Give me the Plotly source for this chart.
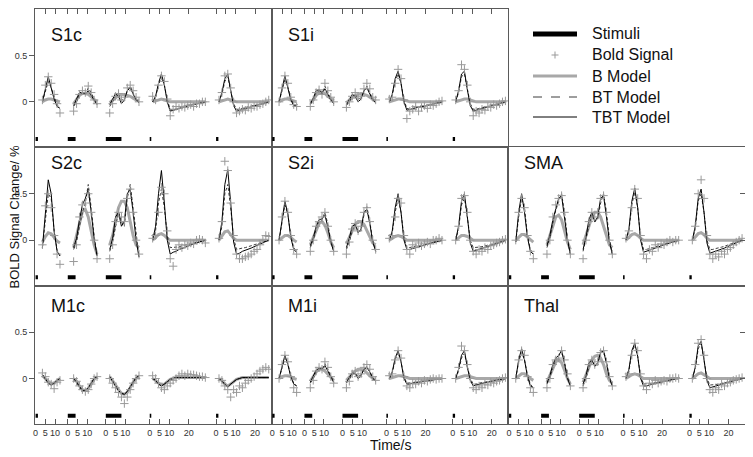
import plotly.graph_objects as go
from plotly.subplots import make_subplots

# ---------------- time grids of the five trial types (s) ----------------
T1 = [3.5, 5, 6.5, 8, 9.5, 11, 12.5]
T2 = [3, 4.5, 6, 7.5, 9, 10.5, 12, 13.5, 15]
T3 = [2, 3.5, 5, 6.5, 8, 9.5, 11, 12.5, 14, 15.5, 17]
T4 = [1.5, 3, 4.5, 6, 7.5, 9, 10.5, 12, 13.5, 15, 16.5, 18, 19.5, 21, 22.5, 24, 25.5, 27, 28.5]
T5 = [1.5, 3, 4.5, 6, 7.5, 9, 10.5, 12, 13.5, 15, 16.5, 18, 19.5, 21, 22.5, 24, 25.5, 27]
T_SEGS = [T1, T2, T3, T4, T5]

SEG_TICKS = [[0, 5, 10], [0, 5, 10], [0, 5, 10], [0, 5, 10, 20], [0, 5, 10, 20]]
STIM_DUR = [1.2, 4, 8, 0.8, 1.2]
STIM_LEVEL = -0.4
Y_TICKS = [0, 0.5]
LEGEND_NAMES = ["Stimuli", "Bold Signal", "B Model", "BT Model", "TBT Model"]

# ---------------- S1c ----------------
S1C_SIG = [[0.02, 0.18, 0.27, 0.2, 0.08, -0.02, -0.12],
           [-0.1, -0.02, 0.08, 0.12, 0.1, 0.17, 0.1, 0.02, -0.02],
           [-0.12, -0.02, 0.06, 0.09, 0.02, 0.05, 0.15, 0.18, 0.12, 0.05, 0.0],
           [0.06, 0.02, 0.18, 0.28, 0.22, 0.03, -0.15, -0.08, -0.05, -0.07, -0.05, -0.06, -0.04, -0.03, -0.05, -0.02, -0.02, 0.0, 0.0],
           [0.02, 0.1, 0.28, 0.3, 0.15, 0.0, -0.12, -0.1, -0.08, -0.09, -0.06, -0.07, -0.05, -0.05, -0.03, -0.02, 0.0, 0.02]]
S1C_B = [[0.0, 0.02, 0.03, 0.03, 0.02, 0.01, 0.0],
         [-0.02, 0.02, 0.07, 0.09, 0.09, 0.08, 0.05, 0.02, 0.0],
         [-0.01, 0.02, 0.05, 0.07, 0.08, 0.08, 0.07, 0.06, 0.04, 0.02, 0.01],
         [0.0, 0.01, 0.02, 0.03, 0.02, 0.01, 0.0, 0.0, 0.0, 0.0, 0.0, 0.0, 0.0, 0.0, 0.0, 0.0, 0.0, 0.0, 0.0],
         [0.0, 0.01, 0.02, 0.03, 0.02, 0.01, 0.0, 0.0, 0.0, 0.0, 0.0, 0.0, 0.0, 0.0, 0.0, 0.0, 0.0, 0.0]]
S1C_BT = [[0.0, 0.12, 0.22, 0.15, 0.05, -0.03, -0.06],
          [-0.05, 0.0, 0.08, 0.1, 0.08, 0.15, 0.1, 0.03, -0.02],
          [-0.05, 0.0, 0.06, 0.08, 0.02, 0.03, 0.12, 0.17, 0.1, 0.03, 0.0],
          [0.0, 0.05, 0.18, 0.27, 0.18, 0.02, -0.08, -0.09, -0.08, -0.07, -0.06, -0.05, -0.04, -0.035, -0.03, -0.02, -0.015, -0.01, 0.0],
          [0.0, 0.08, 0.22, 0.27, 0.12, -0.02, -0.08, -0.08, -0.07, -0.06, -0.05, -0.045, -0.04, -0.03, -0.025, -0.02, -0.01, 0.0]]
S1C_TBT = [[0.0, 0.15, 0.27, 0.15, 0.03, -0.05, -0.07],
           [-0.04, 0.03, 0.1, 0.1, 0.09, 0.12, 0.07, 0.01, -0.03],
           [-0.03, 0.03, 0.09, 0.06, -0.02, 0.02, 0.12, 0.15, 0.08, 0.02, -0.01],
           [0.0, 0.06, 0.2, 0.3, 0.18, 0.0, -0.1, -0.09, -0.08, -0.07, -0.06, -0.05, -0.04, -0.035, -0.03, -0.02, -0.015, -0.01, 0.0],
           [0.0, 0.1, 0.25, 0.3, 0.12, -0.04, -0.1, -0.09, -0.08, -0.07, -0.06, -0.05, -0.04, -0.035, -0.03, -0.02, -0.01, 0.0]]

# ---------------- S1i ----------------
S1I_SIG = [[0.0, 0.15, 0.28, 0.2, 0.05, -0.03, -0.05],
           [-0.05, 0.02, 0.1, 0.13, 0.08, 0.2, 0.12, 0.05, 0.0],
           [-0.06, 0.0, 0.06, 0.1, 0.04, 0.06, 0.14, 0.2, 0.14, 0.05, 0.02],
           [0.03, 0.05, 0.2, 0.35, 0.25, 0.02, -0.18, -0.1, -0.08, -0.05, -0.1, -0.06, -0.04, -0.07, -0.03, -0.04, -0.02, 0.0, 0.01],
           [0.02, 0.12, 0.4, 0.35, 0.18, 0.0, -0.15, -0.1, -0.12, -0.08, -0.09, -0.05, -0.06, -0.03, -0.04, -0.02, 0.0, 0.01]]
S1I_B = [[0.0, 0.02, 0.03, 0.03, 0.02, 0.01, 0.0],
         [-0.01, 0.02, 0.07, 0.1, 0.1, 0.09, 0.06, 0.03, 0.01],
         [-0.01, 0.02, 0.05, 0.07, 0.08, 0.09, 0.08, 0.07, 0.05, 0.03, 0.01],
         [0.0, 0.01, 0.02, 0.03, 0.03, 0.02, 0.01, 0.0, 0.0, 0.0, 0.0, 0.0, 0.0, 0.0, 0.0, 0.0, 0.0, 0.0, 0.0],
         [0.0, 0.01, 0.02, 0.03, 0.03, 0.02, 0.01, 0.0, 0.0, 0.0, 0.0, 0.0, 0.0, 0.0, 0.0, 0.0, 0.0, 0.0]]
S1I_BT = [[0.0, 0.13, 0.24, 0.16, 0.04, -0.03, -0.05],
          [-0.03, 0.02, 0.1, 0.12, 0.08, 0.17, 0.1, 0.03, -0.02],
          [-0.04, 0.0, 0.06, 0.08, 0.03, 0.04, 0.12, 0.17, 0.1, 0.03, 0.0],
          [0.0, 0.07, 0.22, 0.3, 0.2, 0.02, -0.07, -0.08, -0.07, -0.065, -0.06, -0.05, -0.045, -0.04, -0.03, -0.025, -0.02, -0.01, 0.0],
          [0.0, 0.1, 0.27, 0.3, 0.14, -0.02, -0.08, -0.08, -0.07, -0.065, -0.055, -0.05, -0.04, -0.035, -0.03, -0.02, -0.01, 0.0]]
S1I_TBT = [[0.0, 0.15, 0.28, 0.15, 0.02, -0.04, -0.05],
           [-0.02, 0.04, 0.12, 0.13, 0.1, 0.14, 0.08, 0.02, -0.02],
           [-0.03, 0.02, 0.08, 0.06, 0.0, 0.03, 0.12, 0.15, 0.08, 0.02, -0.01],
           [0.0, 0.08, 0.25, 0.33, 0.2, 0.0, -0.09, -0.085, -0.075, -0.065, -0.06, -0.05, -0.045, -0.04, -0.03, -0.025, -0.02, -0.01, 0.0],
           [0.0, 0.12, 0.3, 0.33, 0.13, -0.04, -0.1, -0.09, -0.08, -0.07, -0.06, -0.05, -0.045, -0.04, -0.03, -0.02, -0.01, 0.0]]

# ---------------- S2c ----------------
S2C_SIG = [[-0.05, 0.37, 0.5, 0.35, 0.05, -0.15, -0.26],
           [-0.23, -0.05, 0.25, 0.38, 0.4, 0.5, 0.3, 0.0, -0.2],
           [-0.2, -0.05, 0.2, 0.3, 0.25, 0.2, 0.45, 0.55, 0.3, 0.0, -0.15],
           [0.02, 0.05, 0.3, 0.57, 0.5, 0.1, -0.2, -0.28, -0.1, -0.05, -0.08, -0.05, -0.06, -0.03, -0.04, 0.0, 0.01, 0.0, -0.03],
           [0.02, 0.2, 0.85, 0.75, 0.4, 0.05, -0.15, -0.2, -0.2, -0.18, -0.17, -0.15, -0.12, -0.1, -0.05, 0.0, 0.05, 0.04]]
S2C_B = [[-0.02, 0.04, 0.08, 0.07, 0.03, -0.01, -0.03],
         [-0.08, 0.05, 0.2, 0.31, 0.33, 0.25, 0.1, -0.05, -0.15],
         [-0.05, 0.05, 0.2, 0.35, 0.42, 0.42, 0.35, 0.2, 0.05, -0.05, -0.08],
         [0.0, 0.03, 0.06, 0.07, 0.05, 0.02, 0.0, 0.0, 0.0, 0.0, 0.0, 0.0, 0.0, 0.0, 0.0, 0.0, 0.0, 0.0, 0.0],
         [0.0, 0.04, 0.09, 0.1, 0.06, 0.02, 0.0, 0.0, 0.0, 0.0, 0.0, 0.0, 0.0, 0.0, 0.0, 0.0, 0.0, 0.0]]
S2C_BT = [[-0.08, 0.25, 0.5, 0.45, 0.1, -0.1, -0.17],
          [-0.1, -0.02, 0.15, 0.3, 0.4, 0.6, 0.35, 0.05, -0.17],
          [-0.12, -0.02, 0.15, 0.3, 0.2, 0.15, 0.45, 0.6, 0.35, 0.05, -0.18],
          [0.0, 0.1, 0.4, 0.55, 0.35, 0.05, -0.08, -0.08, -0.075, -0.07, -0.06, -0.05, -0.045, -0.04, -0.03, -0.02, -0.015, -0.01, 0.0],
          [0.0, 0.15, 0.5, 0.6, 0.35, 0.02, -0.1, -0.09, -0.085, -0.08, -0.07, -0.06, -0.05, -0.04, -0.03, -0.02, -0.01, 0.0]]
S2C_TBT = [[-0.08, 0.3, 0.65, 0.5, 0.1, -0.12, -0.17],
           [-0.08, 0.02, 0.22, 0.38, 0.45, 0.55, 0.3, 0.02, -0.17],
           [-0.1, 0.02, 0.25, 0.3, 0.15, 0.2, 0.5, 0.55, 0.3, 0.0, -0.18],
           [0.0, 0.15, 0.5, 0.75, 0.4, 0.0, -0.15, -0.13, -0.12, -0.1, -0.09, -0.08, -0.065, -0.05, -0.04, -0.03, -0.02, -0.01, 0.0],
           [0.0, 0.2, 0.6, 0.76, 0.4, -0.02, -0.15, -0.14, -0.12, -0.11, -0.1, -0.085, -0.07, -0.055, -0.04, -0.03, -0.015, 0.0]]

# ---------------- S2i ----------------
S2I_SIG = [[0.0, 0.25, 0.42, 0.3, 0.05, -0.1, -0.15],
           [-0.12, 0.0, 0.15, 0.2, 0.25, 0.3, 0.15, 0.0, -0.12],
           [-0.15, -0.02, 0.12, 0.18, 0.1, 0.15, 0.3, 0.35, 0.2, 0.0, -0.1],
           [0.02, 0.05, 0.25, 0.45, 0.4, 0.05, -0.1, -0.15, -0.05, -0.08, -0.03, -0.06, -0.04, -0.02, -0.04, 0.0, 0.0, 0.02, 0.0],
           [0.0, 0.15, 0.45, 0.48, 0.3, 0.0, -0.12, -0.15, -0.1, -0.12, -0.08, -0.1, -0.06, -0.05, -0.03, -0.02, 0.0, 0.01]]
S2I_B = [[0.0, 0.03, 0.05, 0.05, 0.03, 0.0, -0.02],
         [-0.05, 0.03, 0.12, 0.18, 0.2, 0.16, 0.08, -0.02, -0.08],
         [-0.04, 0.03, 0.1, 0.17, 0.2, 0.2, 0.17, 0.1, 0.03, -0.03, -0.05],
         [0.0, 0.02, 0.04, 0.05, 0.04, 0.02, 0.0, 0.0, 0.0, 0.0, 0.0, 0.0, 0.0, 0.0, 0.0, 0.0, 0.0, 0.0, 0.0],
         [0.0, 0.03, 0.05, 0.05, 0.04, 0.02, 0.0, 0.0, 0.0, 0.0, 0.0, 0.0, 0.0, 0.0, 0.0, 0.0, 0.0, 0.0]]
S2I_BT = [[0.0, 0.2, 0.38, 0.28, 0.05, -0.08, -0.12],
          [-0.08, 0.0, 0.12, 0.2, 0.22, 0.3, 0.17, 0.0, -0.12],
          [-0.1, -0.02, 0.1, 0.17, 0.1, 0.1, 0.28, 0.36, 0.2, 0.0, -0.12],
          [0.0, 0.08, 0.3, 0.45, 0.3, 0.03, -0.08, -0.08, -0.07, -0.065, -0.06, -0.05, -0.045, -0.04, -0.03, -0.02, -0.015, -0.01, 0.0],
          [0.0, 0.12, 0.38, 0.45, 0.25, 0.0, -0.08, -0.08, -0.075, -0.07, -0.06, -0.05, -0.045, -0.04, -0.03, -0.02, -0.01, 0.0]]
S2I_TBT = [[0.0, 0.22, 0.42, 0.28, 0.03, -0.1, -0.13],
           [-0.06, 0.02, 0.15, 0.22, 0.23, 0.27, 0.14, -0.02, -0.12],
           [-0.08, 0.02, 0.15, 0.17, 0.08, 0.12, 0.3, 0.33, 0.18, -0.02, -0.12],
           [0.0, 0.1, 0.35, 0.5, 0.3, 0.0, -0.1, -0.1, -0.09, -0.08, -0.07, -0.06, -0.05, -0.04, -0.03, -0.025, -0.02, -0.01, 0.0],
           [0.0, 0.15, 0.42, 0.5, 0.25, -0.03, -0.12, -0.11, -0.1, -0.09, -0.08, -0.07, -0.06, -0.05, -0.04, -0.03, -0.015, 0.0]]

# ---------------- SMA ----------------
SMA_SIG = [[0.0, 0.3, 0.45, 0.35, 0.05, -0.12, -0.2],
           [-0.15, 0.0, 0.25, 0.38, 0.45, 0.48, 0.3, 0.0, -0.15],
           [-0.2, 0.0, 0.2, 0.3, 0.25, 0.3, 0.45, 0.48, 0.3, 0.0, -0.15],
           [0.02, 0.1, 0.35, 0.55, 0.45, 0.05, -0.15, -0.2, -0.1, -0.12, -0.05, -0.08, -0.04, -0.05, -0.02, 0.0, -0.02, 0.0, 0.0],
           [0.0, 0.15, 0.5, 0.65, 0.45, 0.05, -0.15, -0.2, -0.15, -0.18, -0.12, -0.15, -0.1, -0.08, -0.05, -0.02, 0.0, 0.02]]
SMA_B = [[0.0, 0.03, 0.06, 0.06, 0.03, 0.0, -0.02],
         [-0.05, 0.05, 0.17, 0.25, 0.27, 0.22, 0.1, -0.02, -0.1],
         [-0.05, 0.05, 0.15, 0.25, 0.3, 0.3, 0.25, 0.15, 0.03, -0.05, -0.08],
         [0.0, 0.03, 0.06, 0.07, 0.05, 0.02, 0.0, 0.0, 0.0, 0.0, 0.0, 0.0, 0.0, 0.0, 0.0, 0.0, 0.0, 0.0, 0.0],
         [0.0, 0.04, 0.07, 0.08, 0.06, 0.02, 0.0, 0.0, 0.0, 0.0, 0.0, 0.0, 0.0, 0.0, 0.0, 0.0, 0.0, 0.0]]
SMA_BT = [[-0.02, 0.25, 0.45, 0.35, 0.05, -0.1, -0.15],
          [-0.08, 0.02, 0.18, 0.32, 0.42, 0.5, 0.3, 0.02, -0.15],
          [-0.12, 0.0, 0.15, 0.28, 0.2, 0.22, 0.4, 0.5, 0.3, 0.02, -0.15],
          [0.0, 0.1, 0.38, 0.52, 0.35, 0.03, -0.1, -0.1, -0.09, -0.08, -0.07, -0.06, -0.05, -0.04, -0.03, -0.025, -0.02, -0.01, 0.0],
          [0.0, 0.12, 0.42, 0.5, 0.3, 0.0, -0.1, -0.1, -0.09, -0.085, -0.075, -0.065, -0.055, -0.045, -0.035, -0.025, -0.01, 0.0]]
SMA_TBT = [[-0.02, 0.3, 0.5, 0.3, 0.03, -0.12, -0.15],
           [-0.06, 0.05, 0.22, 0.35, 0.45, 0.48, 0.25, 0.0, -0.15],
           [-0.1, 0.03, 0.22, 0.3, 0.2, 0.25, 0.45, 0.48, 0.25, -0.02, -0.15],
           [0.0, 0.12, 0.42, 0.56, 0.35, 0.0, -0.13, -0.12, -0.11, -0.1, -0.09, -0.075, -0.06, -0.05, -0.04, -0.03, -0.02, -0.01, 0.0],
           [0.0, 0.15, 0.45, 0.55, 0.3, -0.03, -0.14, -0.13, -0.12, -0.11, -0.1, -0.085, -0.07, -0.055, -0.04, -0.03, -0.015, 0.0]]

# ---------------- M1c ----------------
M1C_SIG = [[0.06, 0.02, -0.04, -0.06, -0.11, -0.04, -0.02],
           [0.0, -0.03, -0.08, -0.12, -0.14, -0.12, -0.06, 0.0, 0.02],
           [0.0, -0.05, -0.1, -0.15, -0.2, -0.27, -0.2, -0.12, -0.05, 0.0, 0.03],
           [0.03, 0.0, -0.05, -0.1, -0.12, -0.08, -0.05, -0.02, 0.0, 0.03, 0.05, 0.03, 0.05, 0.04, 0.04, 0.03, 0.02, 0.02, 0.01],
           [0.0, -0.02, -0.08, -0.12, -0.2, -0.12, -0.15, -0.08, -0.1, -0.05, -0.02, 0.0, 0.02, 0.05, 0.08, 0.1, 0.12, 0.1]]
M1C_B = [[0.03, 0.0, -0.04, -0.06, -0.05, -0.02, 0.0],
         [0.0, -0.03, -0.08, -0.12, -0.13, -0.11, -0.06, -0.01, 0.02],
         [0.02, -0.02, -0.07, -0.12, -0.16, -0.17, -0.15, -0.1, -0.04, 0.0, 0.02],
         [0.0, -0.02, -0.05, -0.07, -0.06, -0.03, -0.01, 0.0, 0.01, 0.01, 0.01, 0.01, 0.01, 0.01, 0.01, 0.01, 0.01, 0.01, 0.01],
         [0.0, -0.02, -0.06, -0.08, -0.06, -0.03, -0.01, 0.0, 0.01, 0.01, 0.01, 0.01, 0.01, 0.01, 0.01, 0.01, 0.01, 0.01]]
M1C_BT = [[0.04, 0.0, -0.05, -0.07, -0.05, -0.02, 0.0],
          [0.0, -0.03, -0.09, -0.13, -0.13, -0.1, -0.05, 0.0, 0.02],
          [0.02, -0.03, -0.08, -0.13, -0.16, -0.17, -0.14, -0.09, -0.03, 0.01, 0.03],
          [0.0, -0.02, -0.06, -0.08, -0.06, -0.03, -0.01, 0.0, 0.01, 0.01, 0.01, 0.01, 0.01, 0.01, 0.01, 0.01, 0.01, 0.01, 0.01],
          [0.0, -0.03, -0.07, -0.09, -0.06, -0.03, -0.01, 0.0, 0.01, 0.01, 0.01, 0.01, 0.01, 0.01, 0.01, 0.01, 0.01, 0.01]]
M1C_TBT = [[0.04, 0.0, -0.05, -0.07, -0.05, -0.02, 0.0],
           [0.0, -0.04, -0.09, -0.13, -0.13, -0.1, -0.05, 0.0, 0.02],
           [0.02, -0.03, -0.09, -0.13, -0.16, -0.17, -0.14, -0.09, -0.03, 0.01, 0.03],
           [0.0, -0.02, -0.06, -0.08, -0.06, -0.03, -0.01, 0.0, 0.01, 0.01, 0.01, 0.01, 0.01, 0.01, 0.01, 0.01, 0.01, 0.01, 0.01],
           [0.0, -0.03, -0.07, -0.09, -0.06, -0.03, -0.01, 0.0, 0.01, 0.01, 0.01, 0.01, 0.01, 0.01, 0.01, 0.01, 0.01, 0.01]]

# ---------------- M1i ----------------
M1I_SIG = [[0.0, 0.15, 0.25, 0.18, 0.02, -0.1, -0.15],
           [-0.1, -0.02, 0.08, 0.12, 0.1, 0.18, 0.12, 0.02, -0.05],
           [-0.1, -0.03, 0.05, 0.08, 0.02, 0.05, 0.12, 0.15, 0.1, 0.02, -0.02],
           [0.03, 0.05, 0.2, 0.3, 0.22, 0.02, -0.08, -0.1, -0.05, -0.06, -0.03, -0.05, -0.02, -0.03, -0.01, 0.0, -0.01, 0.0, 0.0],
           [0.0, 0.12, 0.35, 0.3, 0.15, 0.0, -0.1, -0.12, -0.08, -0.1, -0.06, -0.07, -0.04, -0.05, -0.03, -0.02, 0.0, 0.01]]
M1I_B = [[0.0, 0.02, 0.03, 0.03, 0.02, 0.0, -0.01],
         [-0.03, 0.02, 0.07, 0.1, 0.1, 0.08, 0.05, 0.01, -0.02],
         [-0.02, 0.02, 0.05, 0.08, 0.1, 0.1, 0.09, 0.06, 0.03, 0.0, -0.01],
         [0.0, 0.01, 0.02, 0.03, 0.03, 0.02, 0.01, 0.0, 0.0, 0.0, 0.0, 0.0, 0.0, 0.0, 0.0, 0.0, 0.0, 0.0, 0.0],
         [0.0, 0.01, 0.02, 0.03, 0.03, 0.02, 0.01, 0.0, 0.0, 0.0, 0.0, 0.0, 0.0, 0.0, 0.0, 0.0, 0.0, 0.0, 0.0]]
M1I_BT = [[0.0, 0.12, 0.22, 0.16, 0.03, -0.05, -0.08],
          [-0.05, 0.0, 0.07, 0.1, 0.1, 0.16, 0.1, 0.02, -0.04],
          [-0.05, -0.01, 0.05, 0.06, 0.02, 0.04, 0.1, 0.13, 0.08, 0.01, -0.03],
          [0.0, 0.06, 0.2, 0.28, 0.18, 0.02, -0.05, -0.05, -0.045, -0.04, -0.035, -0.03, -0.025, -0.02, -0.015, -0.01, -0.01, 0.0, 0.0],
          [0.0, 0.08, 0.22, 0.27, 0.13, 0.0, -0.06, -0.06, -0.05, -0.045, -0.04, -0.035, -0.03, -0.025, -0.02, -0.01, -0.005, 0.0]]
M1I_TBT = [[0.0, 0.14, 0.25, 0.15, 0.02, -0.06, -0.08],
           [-0.04, 0.02, 0.09, 0.11, 0.1, 0.14, 0.08, 0.01, -0.04],
           [-0.04, 0.01, 0.06, 0.05, 0.0, 0.03, 0.1, 0.12, 0.07, 0.0, -0.03],
           [0.0, 0.07, 0.22, 0.3, 0.18, 0.0, -0.06, -0.06, -0.05, -0.045, -0.04, -0.035, -0.03, -0.02, -0.015, -0.01, -0.01, 0.0, 0.0],
           [0.0, 0.1, 0.25, 0.3, 0.12, -0.02, -0.08, -0.07, -0.06, -0.05, -0.045, -0.04, -0.03, -0.025, -0.02, -0.01, -0.005, 0.0]]

# ---------------- Thal ----------------
THAL_SIG = [[0.0, 0.2, 0.3, 0.25, 0.02, -0.1, -0.15],
            [-0.1, 0.0, 0.15, 0.2, 0.22, 0.3, 0.2, 0.05, -0.08],
            [-0.1, 0.0, 0.15, 0.2, 0.15, 0.18, 0.28, 0.3, 0.18, 0.02, -0.08],
            [0.02, 0.05, 0.25, 0.38, 0.3, 0.05, -0.08, -0.12, -0.05, -0.06, -0.02, -0.05, -0.03, -0.02, -0.03, 0.0, 0.0, 0.01, 0.0],
            [0.0, 0.15, 0.38, 0.42, 0.25, 0.0, -0.12, -0.15, -0.1, -0.12, -0.06, -0.08, -0.05, -0.04, -0.02, -0.01, 0.0, 0.01]]
THAL_B = [[0.0, 0.03, 0.05, 0.05, 0.03, 0.0, -0.02],
          [-0.04, 0.04, 0.12, 0.18, 0.2, 0.17, 0.09, 0.0, -0.06],
          [-0.04, 0.04, 0.12, 0.2, 0.24, 0.25, 0.22, 0.15, 0.05, -0.02, -0.05],
          [0.0, 0.02, 0.04, 0.05, 0.04, 0.02, 0.0, 0.0, 0.0, 0.0, 0.0, 0.0, 0.0, 0.0, 0.0, 0.0, 0.0, 0.0, 0.0],
          [0.0, 0.03, 0.05, 0.06, 0.04, 0.02, 0.0, 0.0, 0.0, 0.0, 0.0, 0.0, 0.0, 0.0, 0.0, 0.0, 0.0, 0.0]]
THAL_BT = [[0.0, 0.18, 0.28, 0.2, 0.04, -0.06, -0.1],
           [-0.06, 0.01, 0.12, 0.2, 0.24, 0.3, 0.18, 0.02, -0.08],
           [-0.08, 0.0, 0.12, 0.2, 0.14, 0.15, 0.27, 0.3, 0.18, 0.02, -0.08],
           [0.0, 0.08, 0.28, 0.36, 0.24, 0.02, -0.06, -0.06, -0.055, -0.05, -0.045, -0.04, -0.03, -0.025, -0.02, -0.015, -0.01, 0.0, 0.0],
           [0.0, 0.1, 0.32, 0.38, 0.2, 0.0, -0.07, -0.07, -0.065, -0.06, -0.05, -0.045, -0.04, -0.03, -0.02, -0.015, -0.01, 0.0]]
THAL_TBT = [[0.0, 0.2, 0.32, 0.2, 0.02, -0.08, -0.1],
            [-0.05, 0.03, 0.15, 0.22, 0.25, 0.3, 0.16, 0.0, -0.08],
            [-0.06, 0.03, 0.17, 0.2, 0.13, 0.17, 0.28, 0.3, 0.16, 0.0, -0.08],
            [0.0, 0.1, 0.3, 0.38, 0.24, 0.0, -0.08, -0.08, -0.07, -0.06, -0.05, -0.045, -0.04, -0.03, -0.025, -0.02, -0.01, 0.0, 0.0],
            [0.0, 0.12, 0.35, 0.4, 0.2, -0.02, -0.1, -0.09, -0.08, -0.07, -0.06, -0.05, -0.045, -0.035, -0.025, -0.02, -0.01, 0.0]]

# ---------------- layout constants ----------------
SEG_OFFSET = [0, 16.5, 36, 58.5, 92.5]   # horizontal placement of each trial-type window
X_RANGE = [-0.3, 121]
Y_RANGE = [-0.49, 1.0]
FONT = "Arial, Liberation Sans, Helvetica, sans-serif"
PAGE = 8                      # the page body adds an 8px offset around the figure
W, H = 753 - PAGE, 457 - PAGE
ML, MR, MT, MB = 35 - PAGE, 8, 9 - PAGE, 33
PLOT_W = W - ML - MR
PLOT_H = H - MT - MB

PANELS = [
    ("S1c", 1, 1, S1C_SIG, S1C_B, S1C_BT, S1C_TBT),
    ("S1i", 1, 2, S1I_SIG, S1I_B, S1I_BT, S1I_TBT),
    ("S2c", 2, 1, S2C_SIG, S2C_B, S2C_BT, S2C_TBT),
    ("S2i", 2, 2, S2I_SIG, S2I_B, S2I_BT, S2I_TBT),
    ("SMA", 2, 3, SMA_SIG, SMA_B, SMA_BT, SMA_TBT),
    ("M1c", 3, 1, M1C_SIG, M1C_B, M1C_BT, M1C_TBT),
    ("M1i", 3, 2, M1I_SIG, M1I_B, M1I_BT, M1I_TBT),
    ("Thal", 3, 3, THAL_SIG, THAL_B, THAL_BT, THAL_TBT),
]


def seg_xy(series):
    xs, ys = [], []
    for k, (t, v) in enumerate(zip(T_SEGS, series)):
        xs += [SEG_OFFSET[k] + ti for ti in t] + [None]
        ys += list(v) + [None]
    return xs, ys


def stim_xy():
    xs, ys = [], []
    for k, d in enumerate(STIM_DUR):
        xs += [SEG_OFFSET[k], SEG_OFFSET[k] + d, None]
        ys += [STIM_LEVEL, STIM_LEVEL, None]
    return xs, ys


STYLE_B = dict(color="#a8a8a8", width=3)
STYLE_BT = dict(color="#3c3c3c", width=1, dash="3px,2px")
STYLE_TBT = dict(color="#000000", width=1)
STYLE_STIM = dict(color="#000000", width=4)
SIG_COLOR = "#999999"

fig = make_subplots(rows=3, cols=3, horizontal_spacing=0, vertical_spacing=0)

for name, r, c, sig, bm, btm, tbtm in PANELS:
    x, y = seg_xy(bm)
    fig.add_trace(go.Scatter(x=x, y=y, mode="lines", name=LEGEND_NAMES[2], line=STYLE_B), row=r, col=c)
    x, y = seg_xy(btm)
    fig.add_trace(go.Scatter(x=x, y=y, mode="lines", name=LEGEND_NAMES[3], line=STYLE_BT), row=r, col=c)
    x, y = seg_xy(tbtm)
    fig.add_trace(go.Scatter(x=x, y=y, mode="lines", name=LEGEND_NAMES[4], line=STYLE_TBT), row=r, col=c)
    x, y = seg_xy(sig)
    fig.add_trace(go.Scatter(x=x, y=y, mode="markers", name=LEGEND_NAMES[1],
                             marker=dict(symbol="cross-thin", size=6, line=dict(width=1, color=SIG_COLOR))),
                  row=r, col=c)
    x, y = stim_xy()
    fig.add_trace(go.Scatter(x=x, y=y, mode="lines", name=LEGEND_NAMES[0], line=STYLE_STIM), row=r, col=c)

tickvals, ticktext = [], []
for k, ticks in enumerate(SEG_TICKS):
    for v in ticks:
        tickvals.append(SEG_OFFSET[k] + v)
        ticktext.append(str(v))

for r in (1, 2, 3):
    for c in (1, 2, 3):
        xa = dict(range=X_RANGE, showgrid=False, zeroline=False, showline=True, mirror=True,
                  linecolor="#5a5a5a", linewidth=1, tickvals=tickvals, ticktext=ticktext,
                  tickfont=dict(family=FONT, size=9, color="#333333"), ticklen=5,
                  tickcolor="#5a5a5a", tickangle=0, automargin=False)
        if r == 1:
            xa.update(side="top", ticks="inside", showticklabels=False)
        elif r == 3:
            xa.update(ticks="inside", showticklabels=True)
        else:
            xa.update(ticks="", showticklabels=False)
        fig.update_xaxes(row=r, col=c, **xa)

        ya = dict(range=Y_RANGE, showgrid=False, zeroline=False, showline=True, mirror=True,
                  linecolor="#5a5a5a", linewidth=1, tickvals=Y_TICKS, ticktext=["0", "0.5"],
                  tickfont=dict(family=FONT, size=9, color="#333333"), ticklen=5,
                  tickcolor="#5a5a5a", automargin=False)
        if c == 1:
            ya.update(ticks="outside", showticklabels=True)
        elif c == 3:
            ya.update(side="right", ticks="inside", showticklabels=False)
        else:
            ya.update(ticks="", showticklabels=False)
        fig.update_yaxes(row=r, col=c, **ya)


def px_x(px):
    """screen pixel (as seen in the page) -> paper x"""
    return (px - PAGE - ML) / PLOT_W


def px_y(py):
    """screen pixel (as seen in the page) -> paper y"""
    return (H - MB - (py - PAGE)) / PLOT_H


LABEL_Y = {1: 35, 2: 163, 3: 306}
annotations = []
for name, r, c, *_ in PANELS:
    annotations.append(dict(text=name, xref="paper", yref="paper",
                            x=(c - 1) / 3 + 14 / PLOT_W, y=px_y(LABEL_Y[r]),
                            xanchor="left", yanchor="middle", showarrow=False,
                            font=dict(family=FONT, size=18, color="#111111")))
annotations.append(dict(text="BOLD Signal Change/ %", xref="paper", yref="paper",
                        x=px_x(14), y=0.5, textangle=-90, showarrow=False,
                        xanchor="center", yanchor="middle",
                        font=dict(family=FONT, size=13, color="#111111")))
annotations.append(dict(text="Time/s", xref="paper", yref="paper",
                        x=0.5, y=px_y(445), showarrow=False,
                        xanchor="center", yanchor="middle",
                        font=dict(family=FONT, size=14, color="#111111")))

# ---- legend drawn inside the empty upper-right panel ----
LEG_ROWS = [34, 55, 76, 97, 117]
LEG_X0, LEG_X1, LEG_TX = 533, 577, 590
shapes = []
for name, yy in zip(LEGEND_NAMES, LEG_ROWS):
    annotations.append(dict(text=name, xref="paper", yref="paper", x=px_x(LEG_TX), y=px_y(yy),
                            xanchor="left", yanchor="middle", showarrow=False,
                            font=dict(family=FONT, size=16, color="#111111")))
line_styles = [STYLE_STIM | dict(width=5), None, STYLE_B, STYLE_BT | dict(dash="dash"), STYLE_TBT]
for st, yy in zip(line_styles, LEG_ROWS):
    if st is None:
        cx = (LEG_X0 + LEG_X1) / 2
        shapes.append(dict(type="line", xref="paper", yref="paper", x0=px_x(cx - 3.5), x1=px_x(cx + 3.5),
                           y0=px_y(yy), y1=px_y(yy), line=dict(color=SIG_COLOR, width=1)))
        shapes.append(dict(type="line", xref="paper", yref="paper", x0=px_x(cx), x1=px_x(cx),
                           y0=px_y(yy - 3.5), y1=px_y(yy + 3.5), line=dict(color=SIG_COLOR, width=1)))
    else:
        shapes.append(dict(type="line", xref="paper", yref="paper", x0=px_x(LEG_X0), x1=px_x(LEG_X1),
                           y0=px_y(yy), y1=px_y(yy), line=st))

fig.update_layout(
    width=W, height=H,
    margin=dict(l=ML, r=MR, t=MT, b=MB, autoexpand=False),
    paper_bgcolor="white", plot_bgcolor="white",
    annotations=annotations, shapes=shapes,
    showlegend=False,
)

fig.write_html("out.html")
